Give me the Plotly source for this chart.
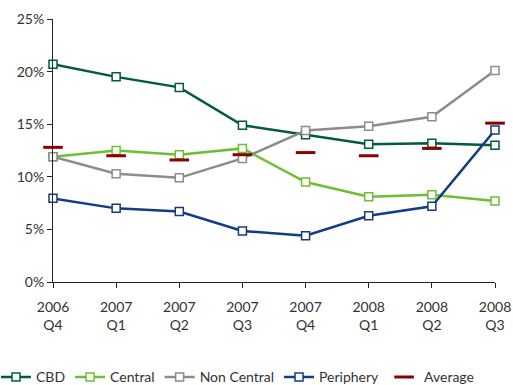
import plotly.graph_objects as go

categories = ["2006<br>Q4", "2007<br>Q1", "2007<br>Q2", "2007<br>Q3", "2007<br>Q4", "2008<br>Q1", "2008<br>Q2", "2008<br>Q3"]
cbd = [20.7, 19.5, 18.5, 14.9, 14.0, 13.1, 13.2, 13.0]
central = [11.9, 12.5, 12.1, 12.7, 9.5, 8.1, 8.3, 7.7]
non_central = [11.9, 10.3, 9.9, 11.75, 14.4, 14.8, 15.7, 20.1]
periphery = [7.95, 7.0, 6.7, 4.85, 4.4, 6.3, 7.2, 14.45]
average = [12.8, 12.0, 11.6, 12.1, 12.3, 12.0, 12.7, 15.1]
y_ticks = [0, 5, 10, 15, 20, 25]
y_labels = ["0%", "5%", "10%", "15%", "20%", "25%"]

series = [
    ("CBD", cbd, "#005C3A"),
    ("Central", central, "#6CC030"),
    ("Non Central", non_central, "#8C8C8C"),
    ("Periphery", periphery, "#123C84"),
]

FONT = "Lato, 'DejaVu Sans', sans-serif"

fig = go.Figure()
for name, vals, col in series:
    fig.add_trace(go.Scatter(
        x=categories, y=vals, name=name, mode="lines+markers",
        line=dict(color=col, width=2.5),
        marker=dict(symbol="square", size=8, color="white", line=dict(color=col, width=1.5)),
        cliponaxis=False,
    ))

fig.add_trace(go.Scatter(
    x=categories, y=average, name="Average", mode="markers",
    marker=dict(symbol="line-ew", size=14, line=dict(color="#8B0000", width=3)),
    cliponaxis=False,
))

fig.update_layout(
    width=513, height=385,
    margin=dict(l=53, r=18, t=19, b=103, autoexpand=False),
    paper_bgcolor="white", plot_bgcolor="white",
    font=dict(family=FONT, size=14, color="#333333"),
    showlegend=True,
    legend=dict(orientation="h", x=-0.129, xanchor="left", y=-0.302, yanchor="top",
                font=dict(size=14), itemwidth=30, tracegroupgap=0),
)
fig.update_xaxes(
    type="category", range=[0, 7], showgrid=False, showline=True, linecolor="#222222",
    linewidth=1, ticks="outside", ticklen=5, tickcolor="#222222", tickson="labels",
    automargin=False, ticklabelstandoff=7,
)
fig.update_yaxes(
    range=[0, 25], tickvals=y_ticks, ticktext=y_labels, showgrid=False,
    showline=True, linecolor="#222222", linewidth=1, ticks="outside", ticklen=5,
    tickcolor="#222222", zeroline=False, automargin=False,
)

fig.write_html("out.html")
